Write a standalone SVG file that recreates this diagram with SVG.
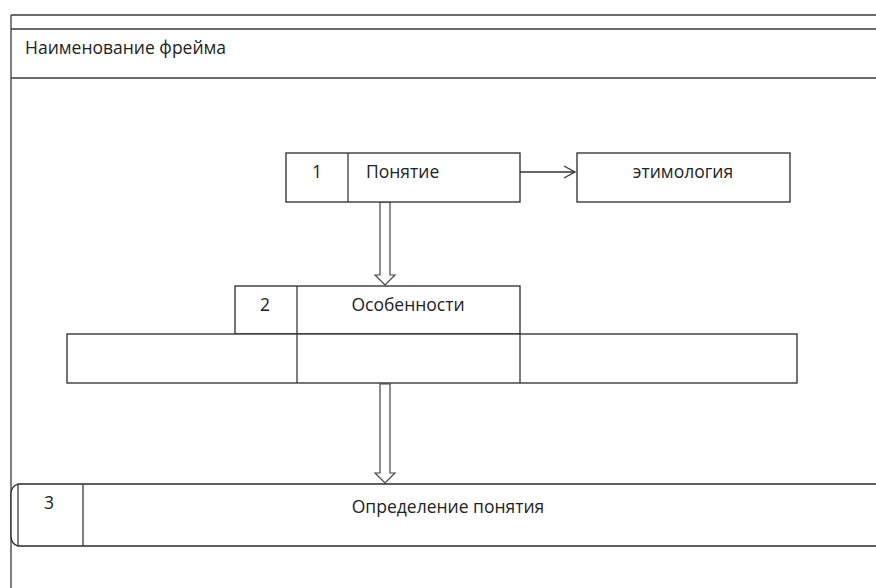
<svg xmlns="http://www.w3.org/2000/svg" width="876" height="588" viewBox="0 0 876 588">
<style>
.ln{fill:none;stroke:#3a3a3a;stroke-width:1.3}
.bx{fill:#fff;stroke:#2a2a2a;stroke-width:1.3}
.t{font-family:"Open Sans","Liberation Sans",sans-serif;font-size:17.5px;fill:#222}
.c{text-anchor:middle}
.ba{fill:#fff;stroke:#444;stroke-width:1.2}
</style>
<defs>
<marker id="chev" markerWidth="14" markerHeight="14" refX="12" refY="7" orient="auto" markerUnits="userSpaceOnUse">
<path d="M1,1 L12,7 L1,13" fill="none" stroke="#333" stroke-width="1.3"/>
</marker>
</defs>
<rect x="0" y="0" width="876" height="588" fill="#fff"/>
<g id="frame">
<line class="ln" x1="11" y1="15" x2="876" y2="15"/>
<line class="ln" x1="11" y1="29" x2="876" y2="29"/>
<line class="ln" x1="11" y1="78" x2="876" y2="78"/>
<line class="ln" x1="11" y1="15" x2="11" y2="588"/>
<text class="t" x="25" y="54">Наименование фрейма</text>
</g>
<g id="connectors">
<line x1="520" y1="172" x2="575" y2="172" stroke="#333" stroke-width="1.3" marker-end="url(#chev)"/>
<path class="ba" d="M380,202 L390,202 L390,275 L395,275 L385,285 L375,275 L380,275 Z"/>
<path class="ba" d="M380,384 L390,384 L390,473 L395,473 L385,483 L375,473 L380,473 Z"/>
</g>
<g id="node1">
<rect class="bx" x="286" y="153" width="234" height="49"/>
<line class="ln" x1="348" y1="153" x2="348" y2="202"/>
<text class="t c" x="317" y="178">1</text>
<text class="t" x="366" y="178">Понятие</text>
</g>
<g id="node-etym">
<rect class="bx" x="577" y="153" width="213" height="49"/>
<text class="t c" x="683" y="178">этимология</text>
</g>
<g id="node2">
<rect class="bx" x="235" y="286" width="285" height="48"/>
<line class="ln" x1="297" y1="286" x2="297" y2="334"/>
<text class="t c" x="265" y="311">2</text>
<text class="t c" x="408" y="311">Особенности</text>
<rect class="bx" x="67" y="334" width="730" height="49"/>
<line class="ln" x1="297" y1="334" x2="297" y2="383"/>
<line class="ln" x1="520" y1="334" x2="520" y2="383"/>
</g>
<g id="node3">
<path class="bx" d="M878,484 L18,484 Q11,486 11,494 L11,536 Q11,544 18,546 L878,546"/>
<line class="ln" x1="18" y1="484" x2="18" y2="546"/>
<line class="ln" x1="83" y1="484" x2="83" y2="546"/>
<text class="t c" x="49" y="509">3</text>
<text class="t c" x="448" y="513">Определение понятия</text>
</g>
</svg>
